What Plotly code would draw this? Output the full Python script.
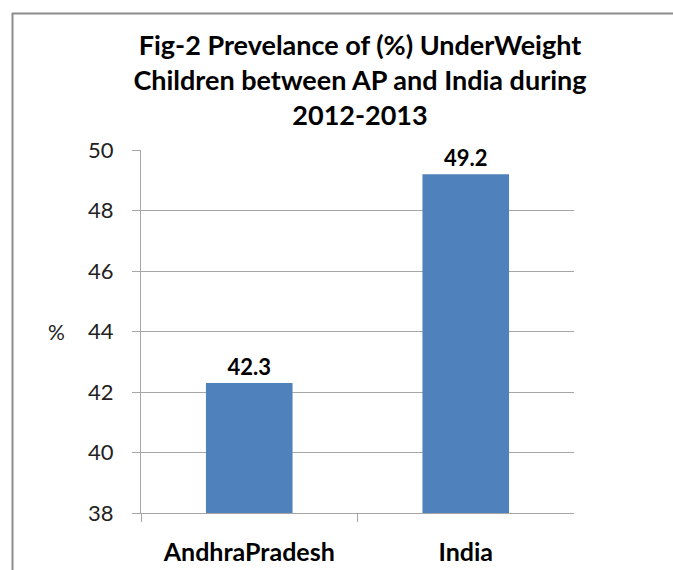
import plotly.graph_objects as go

categories = ["AndhraPradesh", "India"]
values = [42.3, 49.2]
y_ticks = [38, 40, 42, 44, 46, 48, 50]
title_lines = ["Fig-2 Prevelance of (%) UnderWeight",
               "Children between AP and India during",
               "2012-2013"]

W, H = 673, 570
FONT = "Lato"
GRID = "#a6a6a6"

fig = go.Figure()
fig.add_trace(go.Bar(
    x=categories, y=values,
    marker=dict(color="#4f81bd", line=dict(width=0)),
    text=[f"{v:.1f}" for v in values],
    textposition="outside",
    textfont=dict(family=FONT, size=22, color="#000000", weight="bold"),
    cliponaxis=False,
))

x0, x1 = 141, 574
y_top, y_bot = 150, 513
fig.update_layout(
    width=W, height=H,
    margin=dict(l=0, r=0, t=0, b=0, autoexpand=False),
    paper_bgcolor="white", plot_bgcolor="white",
    showlegend=False,
    bargap=0.6,
    title=dict(text="<br>".join(f"<b>{t}</b>" for t in title_lines),
               x=360 / W, xanchor="center", y=1 - 55 / H, yanchor="top",
               yref="container", xref="container",
               font=dict(family=FONT, size=27, color="#000000")),
    xaxis=dict(domain=[x0 / W, x1 / W], showline=True, linecolor=GRID, linewidth=1,
               ticks="outside", ticklen=8, tickcolor=GRID, tickson="boundaries",
               showgrid=False, ticklabelstandoff=17, automargin=False,
               tickfont=dict(family=FONT, size=25, color="#000000", weight="bold")),
    yaxis=dict(domain=[(H - y_bot) / H, (H - y_top) / H], range=[38, 50],
               tickvals=y_ticks, ticktext=[str(t) for t in y_ticks],
               showline=True, linecolor=GRID, linewidth=1,
               ticks="outside", ticklen=8, tickcolor=GRID,
               showgrid=True, gridcolor=GRID, gridwidth=1, zeroline=False,
               ticklabelstandoff=14, automargin=False,
               tickfont=dict(family=FONT, size=22, color="#222222")),
    annotations=[dict(text="%", x=56 / W, y=44, xref="paper", yref="y",
                      showarrow=False, xanchor="center", yanchor="middle",
                      font=dict(family=FONT, size=21, color="#222222"))],
    shapes=[
        dict(type="line", xref="paper", yref="paper", x0=12 / W, x1=1,
             y0=1 - 13.5 / H, y1=1 - 13.5 / H, line=dict(color="#8c8c8c", width=2)),
        dict(type="line", xref="paper", yref="paper", x0=12.5 / W, x1=12.5 / W,
             y0=1 - 13 / H, y1=0, line=dict(color="#8c8c8c", width=2)),
    ],
)

fig.write_html("out.html")
